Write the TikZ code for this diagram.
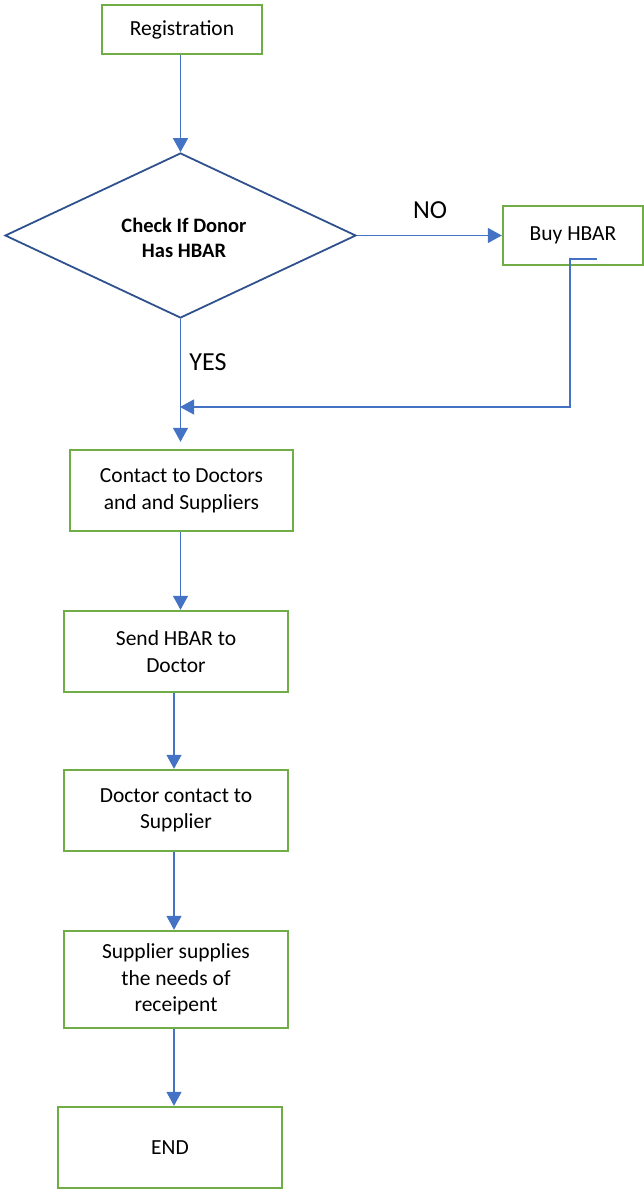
\documentclass[tikz,border=0pt]{standalone}
\usepackage{fontspec}
\setmainfont{Carlito}
\usepackage{tikz}
\usetikzlibrary{arrows.meta}
\usetikzlibrary{shapes.geometric}
\usetikzlibrary{calc}

\definecolor{boxgreen}{HTML}{70AD47}
\definecolor{flowblue}{HTML}{4472C4}
\definecolor{darkblue}{HTML}{2F528F}

\begin{document}
\begin{tikzpicture}[x=1pt,y=-1pt,
        stepbox/.style={draw=boxgreen,line width=2.4pt,minimum width=224pt,minimum height=81pt,
            align=center,inner sep=2pt,font=\fontsize{21.5}{26.5}\selectfont},
        flow/.style={draw=flowblue,line width=1.3pt,-{Triangle[width=15pt,length=14pt]}},
        lbl/.style={font=\fontsize{26}{30}\selectfont}]
        \useasboundingbox (0,0) rectangle (643,1189);

        \node[stepbox,minimum width=160pt,minimum height=49pt] (reg) at (182,29.5) {Registration};
        \node[diamond,draw=darkblue,line width=1.8pt,minimum width=351pt,minimum height=165pt,
            inner sep=0pt] (check) at (180.5,235.5) {};
        \node[align=center,font=\bfseries\fontsize{20.5}{25.5}\selectfont] (checktxt) at (184,238) {Check If Donor\\Has HBAR};
        \node[stepbox,minimum width=140pt,minimum height=59pt] (buy) at (573,235.5) {Buy HBAR};
        \node[stepbox,minimum width=223pt] (contact) at (181.5,490.5) {Contact to Doctors\\and and Suppliers};
        \node[stepbox] (send) at (176,651.5) {Send HBAR to\\Doctor};
        \node[stepbox] (doctor) at (176,810.5) {Doctor contact to\\Supplier};
        \node[stepbox,minimum height=97pt] (supplier) at (176,979.5) {Supplier supplies\\the needs of\\receipent};
        \node[stepbox] (endbox) at (170,1147.5) {END};

        \node[lbl] (no) at (430,210) {NO};
        \node[lbl] (yes) at (208,362) {YES};

        \coordinate (loopstart) at (597,259);
        \coordinate (merge) at (180,407);

        \draw[flow] (reg.south -| check.north) -- (check.north);
        \draw[flow] (check.east) -- (buy.west);
        \draw[flow,shorten >=7pt] (check.south) -- (contact.north -| check.south);
        \draw[flow] (loopstart) -- ++(-27,0) |- (merge);
        \draw[flow] (contact.south -| check.south) -- (send.north -| check.south);
        \draw[flow] (send.south) ++(-2,0) -- ($(doctor.north)+(-2,0)$);
        \draw[flow] (doctor.south) ++(-2,0) -- ($(supplier.north)+(-2,0)$);
        \draw[flow] (supplier.south) ++(-2,0) -- ($(endbox.north)+(4,0)$);
    \end{tikzpicture}
\end{document}
